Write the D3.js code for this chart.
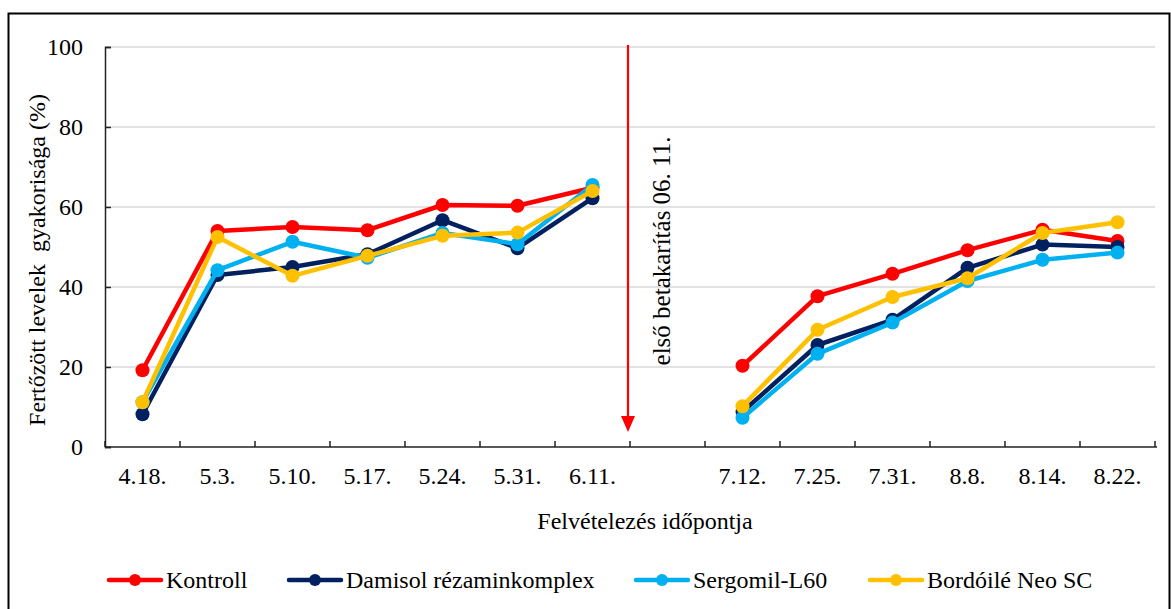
<!DOCTYPE html>
<html><head><meta charset="utf-8">
<script src="https://cdn.jsdelivr.net/npm/d3@7"></script>
<style>
html,body{margin:0;padding:0;background:#fff;}
</style></head>
<body>
<svg id="c" width="1171" height="609"></svg>
<script>
const categories = ["4.18.","5.3.","5.10.","5.17.","5.24.","5.31.","6.11.","","7.12.","7.25.","7.31.","8.8.","8.14.","8.22."];
const seriesNames = ["Kontroll","Damisol rézaminkomplex","Sergomil-L60","Bordóilé Neo SC"];
const seriesColors = ["#ff0000","#002060","#00b0f0","#ffc000"];
const kontroll = [19.2,54.0,55.0,54.2,60.5,60.3,64.8,null,20.3,37.7,43.3,49.2,54.3,51.5];
const damisol  = [8.2,43.0,45.0,48.2,56.7,49.7,62.2,null,8.8,25.5,31.8,44.8,50.6,50.0];
const sergomil = [11.2,44.2,51.3,47.3,53.5,50.7,65.5,null,7.3,23.3,31.1,41.5,46.8,48.6];
const bordoile = [11.2,52.5,42.8,47.8,52.8,53.6,64.0,null,10.2,29.3,37.5,42.2,53.5,56.2];
const yTicks = [0,20,40,60,80,100];
const annotationText = "első betakarítás 06. 11.";
const annotationAfter = "6.11.";

(function(){
const allSeries = [kontroll, damisol, sergomil, bordoile];
const svg = d3.select("#c");
const font = 24;
const FF = "'Liberation Serif'";

svg.append("rect").attr("x",8.5).attr("y",13.5).attr("width",1161).attr("height",620)
  .attr("fill","none").attr("stroke","#000").attr("stroke-width",2);

const pL=105, pR=1155, pT=47, pB=447;
const x = d3.scaleBand().domain(d3.range(categories.length)).range([pL,pR]);
const y = d3.scaleLinear().domain([0,100]).range([pB,pT]);

svg.append("g").selectAll("line").data(yTicks.filter(d=>d>0)).join("line")
  .attr("x1",pL).attr("x2",pR).attr("y1",d=>y(d)).attr("y2",d=>y(d))
  .attr("stroke","#d9d9d9").attr("stroke-width",1.5);

const yAxis = svg.append("g").attr("transform",`translate(${pL},0)`)
  .call(d3.axisLeft(y).tickValues(yTicks).tickSize(-6).tickPadding(22));
yAxis.select(".domain").attr("stroke","#222").attr("stroke-width",1.5);
yAxis.selectAll(".tick line").attr("stroke","#222").attr("stroke-width",1.5);
yAxis.selectAll(".tick text").attr("font-size",font).style("font-family",FF).attr("fill","#000").attr("dy","0.33em");

const xAxisG = svg.append("g").attr("transform",`translate(0,${pB})`);
xAxisG.append("line").attr("x1",pL).attr("x2",pR+2).attr("y1",0).attr("y2",0)
  .attr("stroke","#222").attr("stroke-width",1.5);
const bounds = d3.range(categories.length+1).map(i => i<categories.length ? x(i) : x(i-1)+x.bandwidth());
xAxisG.selectAll("line.tk").data(bounds).join("line").attr("class","tk")
  .attr("x1",d=>d).attr("x2",d=>d).attr("y1",0).attr("y2",-6)
  .attr("stroke","#222").attr("stroke-width",1.5);
xAxisG.selectAll("text").data(categories).join("text")
  .attr("x",(d,i)=>x(i)+x.bandwidth()/2).attr("y",37).style("font-family",FF)
  .attr("text-anchor","middle").attr("font-size",font).text(d=>d);

svg.append("text").attr("x",645).attr("y",529).attr("text-anchor","middle").style("font-family",FF)
  .attr("font-size",font).text("Felvételezés időpontja");
svg.append("text").attr("transform","translate(45,260) rotate(-90)").style("font-family",FF)
  .attr("text-anchor","middle").attr("font-size",font).style("white-space","pre")
  .text("Fertőzött levelek  gyakorisága (%)");

const ax = x(categories.indexOf(annotationAfter)) + x.bandwidth() - 2;
svg.append("line").attr("x1",ax).attr("x2",ax).attr("y1",y(100)-2).attr("y2",y(0)-28)
  .attr("stroke","#ff0000").attr("stroke-width",2.2);
svg.append("path").attr("d",`M${ax-7},${y(0)-31} L${ax+7},${y(0)-31} L${ax},${y(0)-15} Z`)
  .attr("fill","#ff0000");
svg.append("text").attr("transform",`translate(${ax+42},251) rotate(-90)`).style("font-family",FF)
  .attr("text-anchor","middle").attr("font-size",25).style("white-space","pre").text(annotationText);

const line = d3.line().defined(d=>d.v!=null).x(d=>x(d.i)+x.bandwidth()/2).y(d=>y(d.v));
allSeries.forEach((s,k)=>{
  const pts = s.map((v,i)=>({v,i}));
  const g = svg.append("g");
  g.append("path").datum(pts).attr("d",line).attr("fill","none")
    .attr("stroke",seriesColors[k]).attr("stroke-width",4.5).attr("stroke-linejoin","round");
  g.selectAll("circle").data(pts.filter(d=>d.v!=null)).join("circle")
    .attr("cx",d=>x(d.i)+x.bandwidth()/2).attr("cy",d=>y(d.v)).attr("r",7)
    .attr("fill",seriesColors[k]);
});

const legX = [109, 289, 636, 870];
const lg = svg.append("g");
seriesNames.forEach((n,k)=>{
  const gx = legX[k];
  lg.append("line").attr("x1",gx).attr("x2",gx+52).attr("y1",580).attr("y2",580)
    .attr("stroke",seriesColors[k]).attr("stroke-width",4.5).attr("stroke-linecap","round");
  lg.append("circle").attr("cx",gx+26).attr("cy",580).attr("r",6).attr("fill",seriesColors[k]);
  lg.append("text").attr("x",gx+57).attr("y",588).style("font-family",FF).attr("font-size",font).text(n);
});
})();
</script>
</body></html>
